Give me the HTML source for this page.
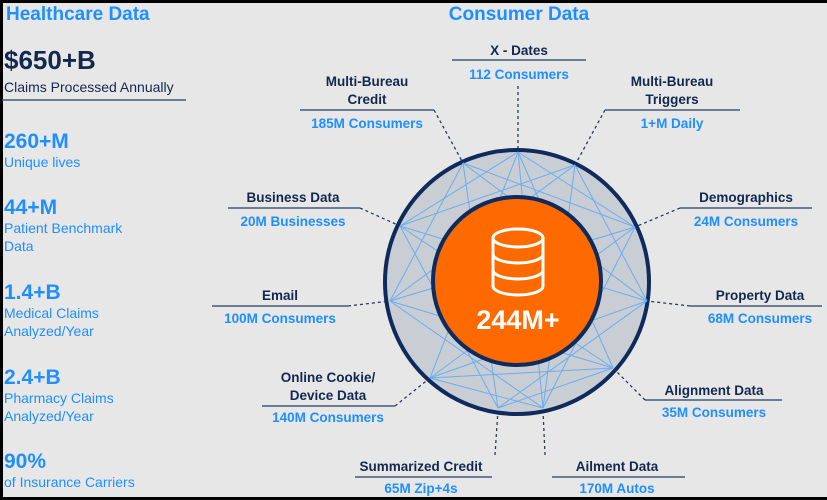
<!DOCTYPE html>
<html><head><meta charset="utf-8"><style>
html,body{margin:0;padding:0;background:#000;}
svg{display:block;}
text{font-family:"Liberation Sans",sans-serif;font-weight:bold;}
.t{fill:#13284f;font-size:13.5px;text-anchor:middle;}
.v{fill:#1e8fff;font-size:13.5px;text-anchor:middle;}
.ul{stroke:#44587a;stroke-width:1.5;}
.d{stroke:#2a3a5a;stroke-width:1.3;stroke-dasharray:3,3;fill:none;}
.lt{fill:#1e8fff;font-size:14px;font-weight:normal;}
.lb{fill:#1e8fff;font-size:21px;}
</style></head><body>
<svg width="827" height="500" viewBox="0 0 827 500">
<rect x="3" y="3" width="824" height="494" fill="#e7e7e7"/>
<text x="6" y="20" style="fill:#1e8fff;font-size:19px">Healthcare Data</text>
<text x="4" y="69" style="fill:#13284f;font-size:26px">$650+B</text>
<text x="4" y="92" style="fill:#13284f;font-size:14px;font-weight:normal">Claims Processed Annually</text>
<line x1="2" y1="100" x2="186" y2="100" class="ul"/>
<text x="4" y="148" class="lb">260+M</text>
<text x="4" y="167" class="lt">Unique lives</text>
<text x="4" y="214" class="lb">44+M</text>
<text x="4" y="233" class="lt">Patient Benchmark</text>
<text x="4" y="251" class="lt">Data</text>
<text x="4" y="299" class="lb">1.4+B</text>
<text x="4" y="318" class="lt">Medical Claims</text>
<text x="4" y="336" class="lt">Analyzed/Year</text>
<text x="4" y="384" class="lb">2.4+B</text>
<text x="4" y="403" class="lt">Pharmacy Claims</text>
<text x="4" y="421" class="lt">Analyzed/Year</text>
<text x="4" y="468" class="lb">90%</text>
<text x="4" y="487" class="lt">of Insurance Carriers</text>
<text x="519" y="20" style="fill:#1e8fff;font-size:19px;text-anchor:middle">Consumer Data</text>
<path class="d" d="M518,86 L518,150 M434,110 L463,163 M605,110 L575,165 M360,208 L400,226 M680,208 L635,227 M348,306 L390,301 M690,306 L647,301 M395,406 L430,378 M645,400 L613,368 M495,455 L498,410 M545,455 L543,410"/>
<circle cx="517" cy="282" r="132" fill="#c9cdd4" stroke="#0f2a5c" stroke-width="4"/>
<g stroke="#6aaef0" stroke-width="1" fill="none">
<path d="M518,152 L400,226 M518,152 L635,227 M518,152 L430,378 M518,152 L613,368 M518,152 L543,408
M463,163 L635,227 M463,163 L390,301 M463,163 L498,408 M463,163 L647,301
M575,165 L400,226 M575,165 L647,301 M575,165 L543,408 M575,165 L390,301
M400,226 L647,301 M400,226 L498,408 M400,226 L613,368
M635,227 L390,301 M635,227 L430,378 M635,227 L543,408
M390,301 L613,368 M390,301 L543,408
M647,301 L430,378 M647,301 L498,408
M430,378 L613,368 M498,408 L613,368 M430,378 L543,408"/>
</g>
<circle cx="517" cy="281" r="84" fill="#ff6a00" stroke="#0f2a5c" stroke-width="4"/>
<g stroke="#fff" stroke-width="3" fill="none">
<ellipse cx="518" cy="238" rx="25" ry="9"/>
<path d="M493,238 V286 A25,9 0 0 0 543,286 V238"/>
<path d="M493,254 A25,9 0 0 0 543,254 M493,270 A25,9 0 0 0 543,270"/>
</g>
<text x="518" y="329" style="fill:#fff;font-size:27px;text-anchor:middle">244M+</text>
<text x="519" y="55" class="t">X - Dates</text>
<line x1="452" y1="60" x2="586" y2="60" class="ul"/>
<text x="519" y="79" class="v">112 Consumers</text>
<text x="367" y="86" class="t">Multi-Bureau</text>
<text x="367" y="104" class="t">Credit</text>
<line x1="300" y1="110" x2="434" y2="110" class="ul"/>
<text x="367" y="128" class="v">185M Consumers</text>
<text x="672" y="86" class="t">Multi-Bureau</text>
<text x="672" y="104" class="t">Triggers</text>
<line x1="605" y1="110" x2="740" y2="110" class="ul"/>
<text x="672" y="128" class="v">1+M Daily</text>
<text x="293" y="202" class="t">Business Data</text>
<line x1="228" y1="208" x2="360" y2="208" class="ul"/>
<text x="293" y="226" class="v">20M Businesses</text>
<text x="746" y="202" class="t">Demographics</text>
<line x1="680" y1="208" x2="812" y2="208" class="ul"/>
<text x="746" y="226" class="v">24M Consumers</text>
<text x="280" y="300" class="t">Email</text>
<line x1="212" y1="306" x2="348" y2="306" class="ul"/>
<text x="280" y="323" class="v">100M Consumers</text>
<text x="760" y="300" class="t">Property Data</text>
<line x1="690" y1="306" x2="822" y2="306" class="ul"/>
<text x="760" y="323" class="v">68M Consumers</text>
<text x="328" y="382" class="t">Online Cookie/</text>
<text x="328" y="400" class="t">Device Data</text>
<line x1="262" y1="406" x2="395" y2="406" class="ul"/>
<text x="328" y="422" class="v">140M Consumers</text>
<text x="714" y="395" class="t">Alignment Data</text>
<line x1="645" y1="400" x2="782" y2="400" class="ul"/>
<text x="714" y="417" class="v">35M Consumers</text>
<text x="421" y="471" class="t">Summarized Credit</text>
<line x1="355" y1="477" x2="492" y2="477" class="ul"/>
<text x="421" y="493" class="v">65M Zip+4s</text>
<text x="617" y="471" class="t">Ailment Data</text>
<line x1="552" y1="477" x2="685" y2="477" class="ul"/>
<text x="617" y="493" class="v">170M Autos</text>
</svg>
</body></html>
